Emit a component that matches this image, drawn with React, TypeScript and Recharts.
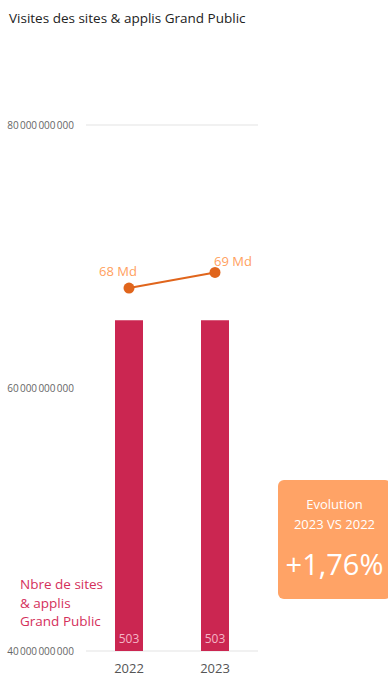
import React from "react";
import {
  ComposedChart,
  Bar,
  Line,
  XAxis,
  YAxis,
  CartesianGrid,
  LabelList,
} from "recharts";

const years = ["2022", "2023"];
const visits = [67.6e9, 68.79e9];
const visitLabels = ["68 Md", "69 Md"];
const sites = [503, 503];
const yTicks = [40e9, 60e9, 80e9];
const evolution = "+1,76%";

const data = years.map((y, i) => ({
  year: y,
  visits: visits[i],
  sites: sites[i],
  visitLabel: visitLabels[i],
}));

const FONT = "'Segoe UI', 'Open Sans', sans-serif";
const BAR = "#CB2651";
const LINE = "#E0651C";
const ORANGE_LABEL = "#FF9F5E";

const fmt = (v: number) =>
  Math.round(v)
    .toString()
    .replace(/\B(?=(\d{3})+(?!\d))/g, "\u202F");

// shifts for the two line labels (left-above, right-above)
const LINE_LABEL_SHIFT = [
  { dx: -11, dy: -17, anchor: "middle" },
  { dx: 18, dy: -11, anchor: "middle" },
];

function VisitLabel(props: any) {
  const { x, y, index, value } = props;
  const s = LINE_LABEL_SHIFT[index] || LINE_LABEL_SHIFT[0];
  return (
    <text
      x={x + s.dx}
      y={y + s.dy}
      textAnchor={s.anchor}
      dominantBaseline="central"
      fill={ORANGE_LABEL}
      fontSize={13}
      fontFamily={FONT}
    >
      {value}
    </text>
  );
}

function SiteLabel(props: any) {
  const { x, y, width, height, value } = props;
  return (
    <text
      x={x + width / 2}
      y={y + height - 13}
      textAnchor="middle"
      dominantBaseline="central"
      fill="#F4B5C6"
      fontSize={12}
      fontFamily={FONT}
    >
      {value}
    </text>
  );
}

export default function App() {
  return (
    <div
      style={{
        position: "absolute",
        left: 0,
        top: 0,
        width: 388,
        height: 677,
        background: "#fff",
        fontFamily: FONT,
        overflow: "hidden",
      }}
    >
      <div
        style={{
          position: "absolute",
          left: 9,
          top: 9,
          fontSize: 13.5,
          color: "#222",
        }}
      >
        Visites des sites &amp; applis Grand Public
      </div>

      <ComposedChart
        width={388}
        height={677}
        data={data}
        margin={{ top: 125, right: 130, left: 0, bottom: 0 }}
        barCategoryGap={0}
        style={{ overflow: "visible" }}
      >
        <CartesianGrid vertical={false} stroke="#E3E3E3" />
        <XAxis
          dataKey="year"
          axisLine={false}
          tickLine={false}
          tickSize={0}
          tickMargin={13}
          height={26}
          tick={{ fill: "#555", fontSize: 13, fontFamily: FONT }}
        />
        <YAxis
          yAxisId="visits"
          domain={[40e9, 80e9]}
          ticks={yTicks}
          width={86}
          axisLine={false}
          tickLine={false}
          tickSize={0}
          tickMargin={12}
          tickFormatter={fmt}
          tick={{ fill: "#666", fontSize: 10, fontFamily: FONT }}
        />
        <YAxis yAxisId="sites" orientation="right" domain={[0, 800]} hide />
        <Bar
          yAxisId="sites"
          dataKey="sites"
          fill={BAR}
          barSize={28}
          isAnimationActive={false}
        >
          <LabelList dataKey="sites" content={<SiteLabel />} />
        </Bar>
        <Line
          yAxisId="visits"
          dataKey="visits"
          stroke={LINE}
          strokeWidth={2}
          dot={{ r: 5.5, fill: LINE, stroke: LINE, strokeWidth: 0 }}
          isAnimationActive={false}
        >
          <LabelList dataKey="visitLabel" content={<VisitLabel />} />
        </Line>
      </ComposedChart>

      <div
        style={{
          position: "absolute",
          left: 20,
          top: 575,
          fontSize: 13.5,
          lineHeight: "18.5px",
          color: "#D4305B",
        }}
      >
        Nbre de sites
        <br />
        &amp; applis
        <br />
        Grand Public
      </div>

      <div
        style={{
          position: "absolute",
          left: 278,
          top: 480,
          width: 113,
          height: 119,
          background: "#FFA366",
          borderRadius: 6,
          color: "#fff",
          textAlign: "center",
        }}
      >
        <div style={{ marginTop: 14, fontSize: 13, lineHeight: "20px" }}>
          Evolution
          <br />
          2023 VS 2022
        </div>
        <div style={{ marginTop: 12, fontSize: 29, lineHeight: "36px" }}>
          {evolution}
        </div>
      </div>
    </div>
  );
}
